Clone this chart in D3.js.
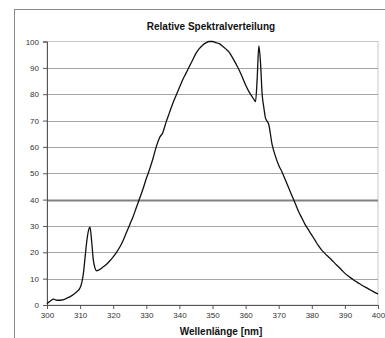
<!DOCTYPE html>
<html>
<head>
<meta charset="utf-8">
<script src="https://cdn.jsdelivr.net/npm/d3@7"></script>
<style>
  body { margin: 0; background: #fff; }
  text { font-family: Arial, "Liberation Sans", sans-serif; }
</style>
</head>
<body>
<div id="chart"></div>
<script>
const chartTitle = 'Relative Spektralverteilung';
const xTitle = 'Wellenlänge [nm]';
const xTicks = [300, 310, 320, 330, 340, 350, 360, 370, 380, 390, 400];
const yTicks = [0, 10, 20, 30, 40, 50, 60, 70, 80, 90, 100];

// wavelength (nm) and relative intensity (%)
const wavelength = [
  300, 301, 302, 303, 304, 305, 306, 307, 308, 309, 310, 310.5, 311, 311.5, 312, 312.5,
  313, 313.5, 314, 314.5, 315, 316, 317, 318, 319, 320, 321, 322, 323, 324, 325, 326,
  327, 328, 329, 330, 331, 332, 333, 334, 335, 336, 337, 338, 339, 340, 341, 342, 343,
  344, 345, 346, 347, 348, 349, 350, 351, 352, 353, 354, 355, 356, 357, 358, 359, 360,
  361, 362, 362.5, 363, 363.5, 364, 364.5, 365, 365.5, 366, 367, 368, 369, 370, 371,
  372, 373, 374, 375, 376, 377, 378, 379, 380, 381, 382, 383, 384, 385, 386, 387, 388,
  389, 390, 391, 392, 393, 394, 395, 396, 397, 398, 399, 400
];
const intensity = [
  0.5, 1.5, 2.2, 1.8, 1.8, 2.0, 2.6, 3.2, 4.0, 5.0, 6.5, 8.5, 12, 18, 24, 28,
  29.5, 24, 17, 14, 13, 13.5, 14.5, 15.5, 16.8, 18.3, 20, 22, 24.5, 27.5, 30.5, 33.5,
  37, 40.5, 44, 48, 51.5, 55.5, 60, 63.5, 65.5, 69.5, 73, 76.5, 79.5, 82.5, 85.5, 88, 90.5,
  93, 95.5, 97.3, 98.6, 99.5, 100, 100, 99.6, 99.2, 98.3, 97.2, 96, 94, 91.7, 89.3, 86.5, 83.5,
  81, 79, 78, 77.2, 86, 98.3, 92, 80, 75, 71, 68.5, 61, 56.5, 53, 50.5,
  47.5, 44.5, 41.5, 38.5, 35.5, 33, 30.5, 28.5, 26.5, 24.5, 22.5, 20.8, 19.5, 18.3, 17.1, 15.8, 14.6,
  13.3, 12, 11, 10.1, 9.2, 8.4, 7.6, 6.9, 6.2, 5.5, 4.8, 4.2
];

const width = 385, height = 338;
const margin = { top: 41.5, right: 7, bottom: 33, left: 47 };

const svg = d3.select('#chart').append('svg')
  .attr('width', width)
  .attr('height', height);

svg.append('rect').attr('width', width).attr('height', height).attr('fill', '#fff');

// outer chart frame (cut off by the image edges)
svg.append('rect')
  .attr('x', 14.5).attr('y', 9.5)
  .attr('width', 420).attr('height', 400)
  .attr('fill', 'none').attr('stroke', '#888');

const x = d3.scaleLinear().domain([300, 400]).range([margin.left, width - margin.right]);
const y = d3.scaleLinear().domain([0, 100]).range([height - margin.bottom, margin.top]);

/* ---------- plot area border ---------- */
svg.append('rect')
  .attr('x', x(300)).attr('y', y(100))
  .attr('width', x(400) - x(300)).attr('height', y(0) - y(100))
  .attr('fill', 'none').attr('stroke', '#c8c8c8');

/* ---------- gridlines ---------- */
svg.append('g').selectAll('line')
  .data(yTicks.filter(d => d > 0 && d < 100))
  .enter().append('line')
  .attr('x1', x(300)).attr('x2', x(400))
  .attr('y1', d => Math.round(y(d)) + 0.5).attr('y2', d => Math.round(y(d)) + 0.5)
  .attr('stroke', d => d === 40 ? '#808080' : '#a6a6a6')
  .attr('stroke-width', d => d === 40 ? 2 : 1.2);

/* ---------- axes ---------- */
const xAxis = svg.append('g')
  .attr('transform', 'translate(0,' + y(0) + ')')
  .call(d3.axisBottom(x).tickValues(xTicks).tickSize(4).tickPadding(3).tickFormat(d3.format('d')));

const yAxis = svg.append('g')
  .attr('transform', 'translate(' + x(300) + ',0)')
  .call(d3.axisLeft(y).tickValues(yTicks).tickSize(4).tickPadding(4).tickFormat(d3.format('d')));

[xAxis, yAxis].forEach(a => {
  a.select('.domain').attr('stroke', '#555');
  a.selectAll('.tick line').attr('stroke', '#555');
  a.selectAll('.tick text')
    .attr('fill', '#333')
    .style('font-size', '8px');
});

/* ---------- curve ---------- */
const points = wavelength.map((w, i) => [w, intensity[i]]);
const line = d3.line()
  .x(d => x(d[0]))
  .y(d => y(d[1]))
  .curve(d3.curveMonotoneX);

svg.append('path')
  .datum(points)
  .attr('d', line)
  .attr('fill', 'none')
  .attr('stroke', '#111')
  .attr('stroke-width', 1.3)
  .attr('stroke-linejoin', 'round');

/* ---------- titles ---------- */
svg.append('text')
  .attr('x', 211).attr('y', 30)
  .attr('text-anchor', 'middle')
  .style('font-size', '10px').style('font-weight', 'bold')
  .attr('fill', '#111')
  .text(chartTitle);

svg.append('text')
  .attr('x', 221).attr('y', 335)
  .attr('text-anchor', 'middle')
  .style('font-size', '10px').style('font-weight', 'bold')
  .attr('fill', '#111')
  .text(xTitle);
</script>
</body>
</html>
